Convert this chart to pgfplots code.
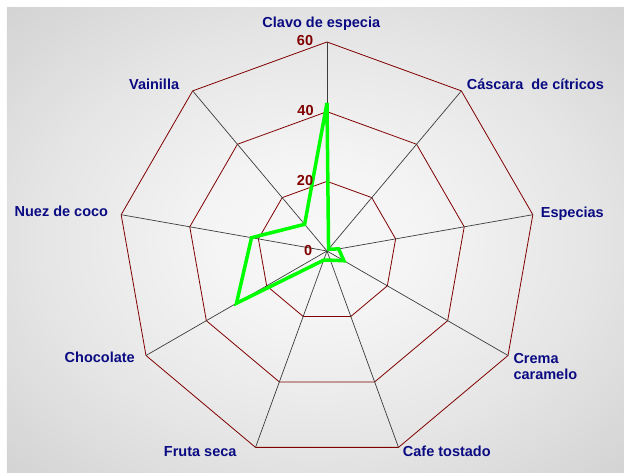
\documentclass[border=0pt]{standalone}
\usepackage{pgfplots}
\pgfplotsset{compat=1.18}
\usepackage{fontspec}
\setmainfont{Liberation Sans}
\definecolor{lblblue}{RGB}{10,10,130}
\definecolor{ringred}{RGB}{128,0,0}
\definecolor{spoke}{RGB}{60,60,60}
\definecolor{datagreen}{RGB}{0,255,0}
\pgfdeclareradialshading{bgshade}{\pgfpointorigin}{%
color(0bp)=(white!97!black); color(8bp)=(white!96!black); color(22bp)=(white!90!black);
color(35bp)=(white!83!black); color(45bp)=(white!78!black); color(55bp)=(white!76!black); color(71bp)=(white!75!black)}
\begin{document}
\begin{tikzpicture}[x=1bp,y=1bp]
\useasboundingbox (-327,-222) rectangle (297,251);
\shade[shading=bgshade] (-320,-222) rectangle (297,243);
\begin{axis}[anchor=origin, at={(0,0)}, x=3.48333bp, y=3.48333bp,
  xmin=-60, xmax=60, ymin=-60, ymax=60, hide axis, clip=false, data cs=polar]
% rings
\addplot[ringred, line width=0.8bp, mark=none] coordinates {(90,20)(50,20)(10,20)(-30,20)(-70,20)(-110,20)(-150,20)(170,20)(130,20)} -- cycle;
\addplot[ringred, line width=0.8bp, mark=none] coordinates {(90,40)(50,40)(10,40)(-30,40)(-70,40)(-110,40)(-150,40)(170,40)(130,40)} -- cycle;
\addplot[ringred, line width=0.8bp, mark=none] coordinates {(90,60)(50,60)(10,60)(-30,60)(-70,60)(-110,60)(-150,60)(170,60)(130,60)} -- cycle;
% spokes
\addplot[spoke, line width=0.7bp, mark=none] coordinates {(90,0)(90,60)};
\addplot[spoke, line width=0.7bp, mark=none] coordinates {(50,0)(50,60)};
\addplot[spoke, line width=0.7bp, mark=none] coordinates {(10,0)(10,60)};
\addplot[spoke, line width=0.7bp, mark=none] coordinates {(-30,0)(-30,60)};
\addplot[spoke, line width=0.7bp, mark=none] coordinates {(-70,0)(-70,60)};
\addplot[spoke, line width=0.7bp, mark=none] coordinates {(-110,0)(-110,60)};
\addplot[spoke, line width=0.7bp, mark=none] coordinates {(-150,0)(-150,60)};
\addplot[spoke, line width=0.7bp, mark=none] coordinates {(170,0)(170,60)};
\addplot[spoke, line width=0.7bp, mark=none] coordinates {(130,0)(130,60)};
% data
\addplot[datagreen, line width=3.5bp, mark=none, line join=miter] coordinates {(90,42.5)(50,0.7)(10,3.4)(-30,5.6)(-70,2.8)(-110,2.8)(-150,30)(170,22)(130,10)} -- cycle;
\end{axis}
\begin{scope}[font=\fontsize{14.5bp}{17bp}\selectfont\bfseries]
\node[lblblue, anchor=base, inner sep=0] at (-5.7,223) {Clavo de especia};
\node[lblblue, anchor=base west, inner sep=0] at (139.7,161) {Cáscara\ \ de cítricos};
\node[lblblue, anchor=base west, inner sep=0] at (213.7,33) {Especias};
\node[lblblue, anchor=base west, inner sep=0] at (186.3,-113) {Crema};
\node[lblblue, anchor=base west, inner sep=0] at (186.3,-128.5) {caramelo};
\node[lblblue, anchor=base west, inner sep=0] at (75.7,-206) {Cafe tostado};
\node[lblblue, anchor=base east, inner sep=0] at (-90.3,-206) {Fruta seca};
\node[lblblue, anchor=base east, inner sep=0] at (-192,-112) {Chocolate};
\node[lblblue, anchor=base east, inner sep=0] at (-218.7,34) {Nuez de coco};
\node[lblblue, anchor=base east, inner sep=0] at (-147.7,161) {Vainilla};
\node[ringred, anchor=base east, inner sep=0] at (-13.7,205) {60};
\node[ringred, anchor=base east, inner sep=0] at (-13.2,135) {40};
\node[ringred, anchor=base east, inner sep=0] at (-13.7,65) {20};
\node[ringred, anchor=base east, inner sep=0] at (-14.7,-4.3) {0};
\end{scope}
\end{tikzpicture}
\end{document}
